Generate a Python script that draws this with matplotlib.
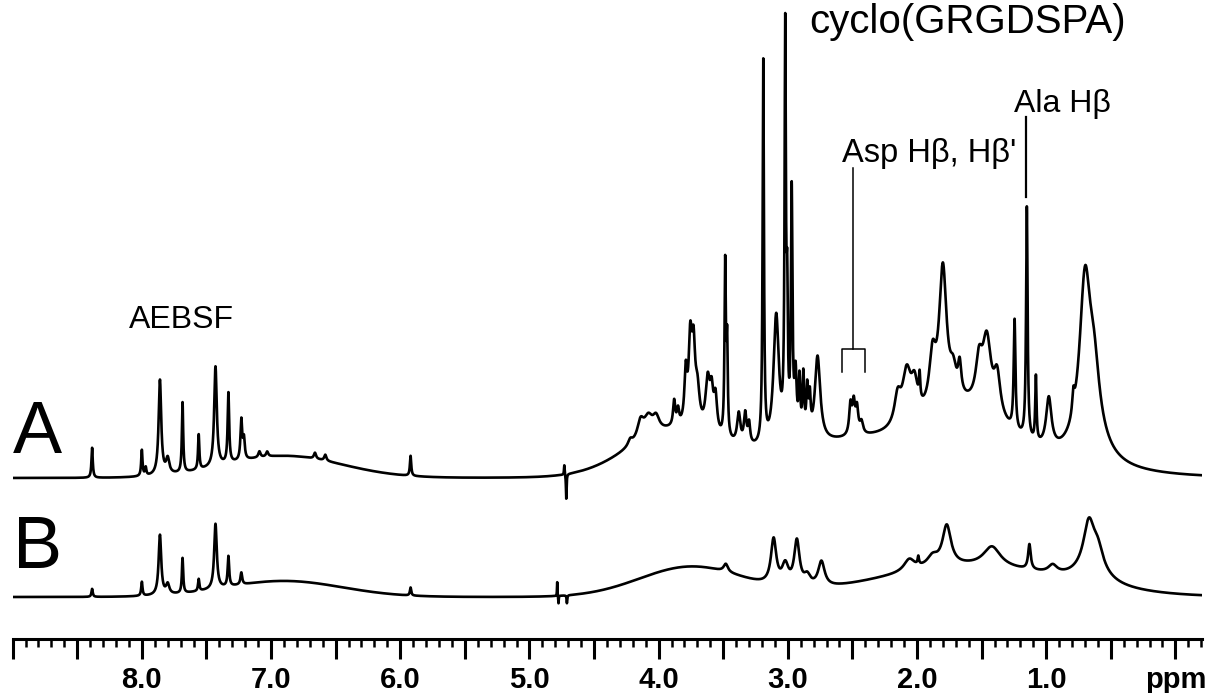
#!/usr/bin/env python3
"""1H NMR spectra A and B with peak labels."""

import numpy as np
import matplotlib

matplotlib.use("Agg")
import matplotlib.pyplot as plt
from matplotlib.ticker import FixedLocator, FixedFormatter

plt.rcParams["font.family"] = ["Liberation Sans", "DejaVu Sans"]

# spectrum A: sharp lines (ppm, height, half width at half height in ppm)
A_PPM = [8.385, 8.00, 7.97, 7.86, 7.80, 7.685, 7.56, 7.43, 7.33, 7.23, 7.21,
         7.09, 7.03, 6.66, 6.58, 5.92, 4.73, 4.715,
         4.22, 4.14, 4.08, 4.02, 3.88, 3.85, 3.79, 3.755, 3.73, 3.70,
         3.62, 3.59, 3.56, 3.485, 3.47, 3.38, 3.33, 3.30, 3.19, 3.09,
         3.02, 3.005, 2.97, 2.94, 2.91, 2.88, 2.85, 2.83, 2.77,
         2.515, 2.49, 2.465, 2.43, 2.15, 2.08, 2.02, 1.98, 1.88, 1.80,
         1.72, 1.67, 1.52, 1.46, 1.38, 1.245, 1.15, 1.08, 0.98,
         0.79, 0.70, 0.63, 0.66]
A_HEIGHT = [30, 26, 8, 95, 15, 70, 35, 100, 70, 40, 20,
            6, 5, 6, 6, 20, 10, -25,
            6, 18, 18, 14, 25, 15, 50, 80, 70, 35,
            50, 35, 35, 170, 90, 30, 30, 20, 382, 130,
            397, 120, 243, 60, 55, 60, 45, 35, 85,
            30, 30, 25, 12, 28, 50, 32, 25, 50, 138,
            25, 30, 40, 70, 40, 110, 232, 65, 50,
            20, 150, 55, 35]
A_WIDTH = [0.006, 0.006, 0.006, 0.012, 0.015, 0.006, 0.006, 0.012, 0.007, 0.008, 0.008,
           0.01, 0.01, 0.01, 0.01, 0.006, 0.003, 0.003,
           0.02, 0.03, 0.04, 0.03, 0.01, 0.01, 0.012, 0.015, 0.015, 0.02,
           0.02, 0.015, 0.015, 0.006, 0.006, 0.015, 0.012, 0.01, 0.006, 0.025,
           0.006, 0.006, 0.007, 0.01, 0.008, 0.008, 0.008, 0.008, 0.025,
           0.012, 0.012, 0.012, 0.015, 0.03, 0.04, 0.03, 0.006, 0.03, 0.035,
           0.03, 0.015, 0.03, 0.04, 0.03, 0.008, 0.007, 0.006, 0.025,
           0.01, 0.05, 0.05, 0.13]
# spectrum A: broad humps (ppm, height, sigma in ppm)
A_HUMP_PPM = [6.9, 3.9, 2.2, 1.6]
A_HUMP_HEIGHT = [22, 40, 40, 35]
A_HUMP_SIGMA = [0.45, 0.35, 0.9, 0.28]

# spectrum B
B_PPM = [8.385, 8.00, 7.86, 7.80, 7.685, 7.56, 7.43, 7.33, 7.23, 5.92,
         4.785, 4.775, 4.71, 3.48, 3.11, 3.02, 2.93, 2.85, 2.74,
         2.06, 1.99, 1.88, 1.77, 1.42, 1.13, 0.95, 0.67, 0.60, 0.65]
B_HEIGHT = [8, 14, 60, 10, 35, 12, 65, 30, 12, 8,
            14, -8, -8, 8, 45, 20, 45, 10, 25,
            12, 8, 10, 40, 20, 25, 8, 45, 20, 15]
B_WIDTH = [0.006, 0.006, 0.012, 0.015, 0.006, 0.006, 0.012, 0.007, 0.008, 0.006,
           0.002, 0.002, 0.003, 0.02, 0.025, 0.03, 0.025, 0.03, 0.03,
           0.05, 0.006, 0.05, 0.04, 0.08, 0.012, 0.04, 0.05, 0.05, 0.15]
B_HUMP_PPM = [6.9, 3.75, 1.6]
B_HUMP_HEIGHT = [16, 30, 30]
B_HUMP_SIGMA = [0.45, 0.4, 0.7]

TICK_LABELS = ["8.0", "7.0", "6.0", "5.0", "4.0", "3.0", "2.0", "1.0", "ppm"]
TICK_VALUES = [8.0, 7.0, 6.0, 5.0, 4.0, 3.0, 2.0, 1.0, 0.0]

A_OFFSET = 161
B_OFFSET = 42


def trace(ppm, peaks, widths, heights, humps, hump_h, hump_s):
    y = np.zeros_like(ppm)
    for c, h, w in zip(peaks, heights, widths):
        y += h / (1.0 + ((ppm - c) / w) ** 2)
    for c, h, s in zip(humps, hump_h, hump_s):
        y += h * np.exp(-0.5 * ((ppm - c) / s) ** 2)
    return y


def main():
    fig = plt.figure(figsize=(12.16, 6.93), dpi=100)
    ax = fig.add_axes([0.0104, 0.0779, 0.978, 0.9221])
    ax.set_xlim(9.0, -0.205)
    ax.set_ylim(0, 639)

    ppm = np.linspace(9.0, -0.21, 40000)
    ya = trace(ppm, A_PPM, A_WIDTH, A_HEIGHT, A_HUMP_PPM, A_HUMP_HEIGHT, A_HUMP_SIGMA)
    yb = trace(ppm, B_PPM, B_WIDTH, B_HEIGHT, B_HUMP_PPM, B_HUMP_HEIGHT, B_HUMP_SIGMA)
    ax.plot(ppm, ya + A_OFFSET, color="black", lw=1.9, solid_joinstyle="round")
    ax.plot(ppm, yb + B_OFFSET, color="black", lw=1.9, solid_joinstyle="round")

    for side in ("top", "left", "right"):
        ax.spines[side].set_visible(False)
    ax.spines["bottom"].set_linewidth(2.2)
    ax.set_yticks([])
    major = np.arange(0.0, 9.01, 0.5)
    ax.xaxis.set_major_locator(FixedLocator(major))
    ax.xaxis.set_major_formatter(FixedFormatter([""] * len(major)))
    ax.xaxis.set_minor_locator(FixedLocator(np.round(np.arange(-0.2, 9.0, 0.1), 2)))
    ax.tick_params(axis="x", which="major", length=14.5, width=2.2, direction="out")
    ax.tick_params(axis="x", which="minor", length=5.8, width=1.8, direction="out")
    for v, lab in zip(TICK_VALUES, TICK_LABELS):
        ax.text(v, -41, lab, ha="center", va="center", fontsize=21,
                fontweight="bold", clip_on=False)

    ax.text(9.0, 186, "A", fontsize=53, ha="left", va="baseline")
    ax.text(9.0, 71, "B", fontsize=53, ha="left", va="baseline")
    ax.text(8.10, 319, "AEBSF", fontsize=23, ha="left", va="center")
    ax.text(2.835, 606, "cyclo(GRGDSPA)", fontsize=29, ha="left", va="baseline")
    ax.text(1.247, 535, "Ala H\u03b2", fontsize=23, ha="left", va="center")
    ax.text(2.579, 486, "Asp H\u03b2, H\u03b2'", fontsize=23.5, ha="left", va="center")

    # Asp bracket and Ala marker
    ax.plot([2.494, 2.494], [471, 290], color="black", lw=1.1)
    ax.plot([2.579, 2.579, 2.401, 2.401], [267, 290, 290, 267], color="black", lw=1.1)
    ax.plot([1.154, 1.154], [522, 442], color="black", lw=1.6)

    fig.savefig("out.png", dpi=100, facecolor="white")
    plt.close(fig)


if __name__ == "__main__":
    main()
